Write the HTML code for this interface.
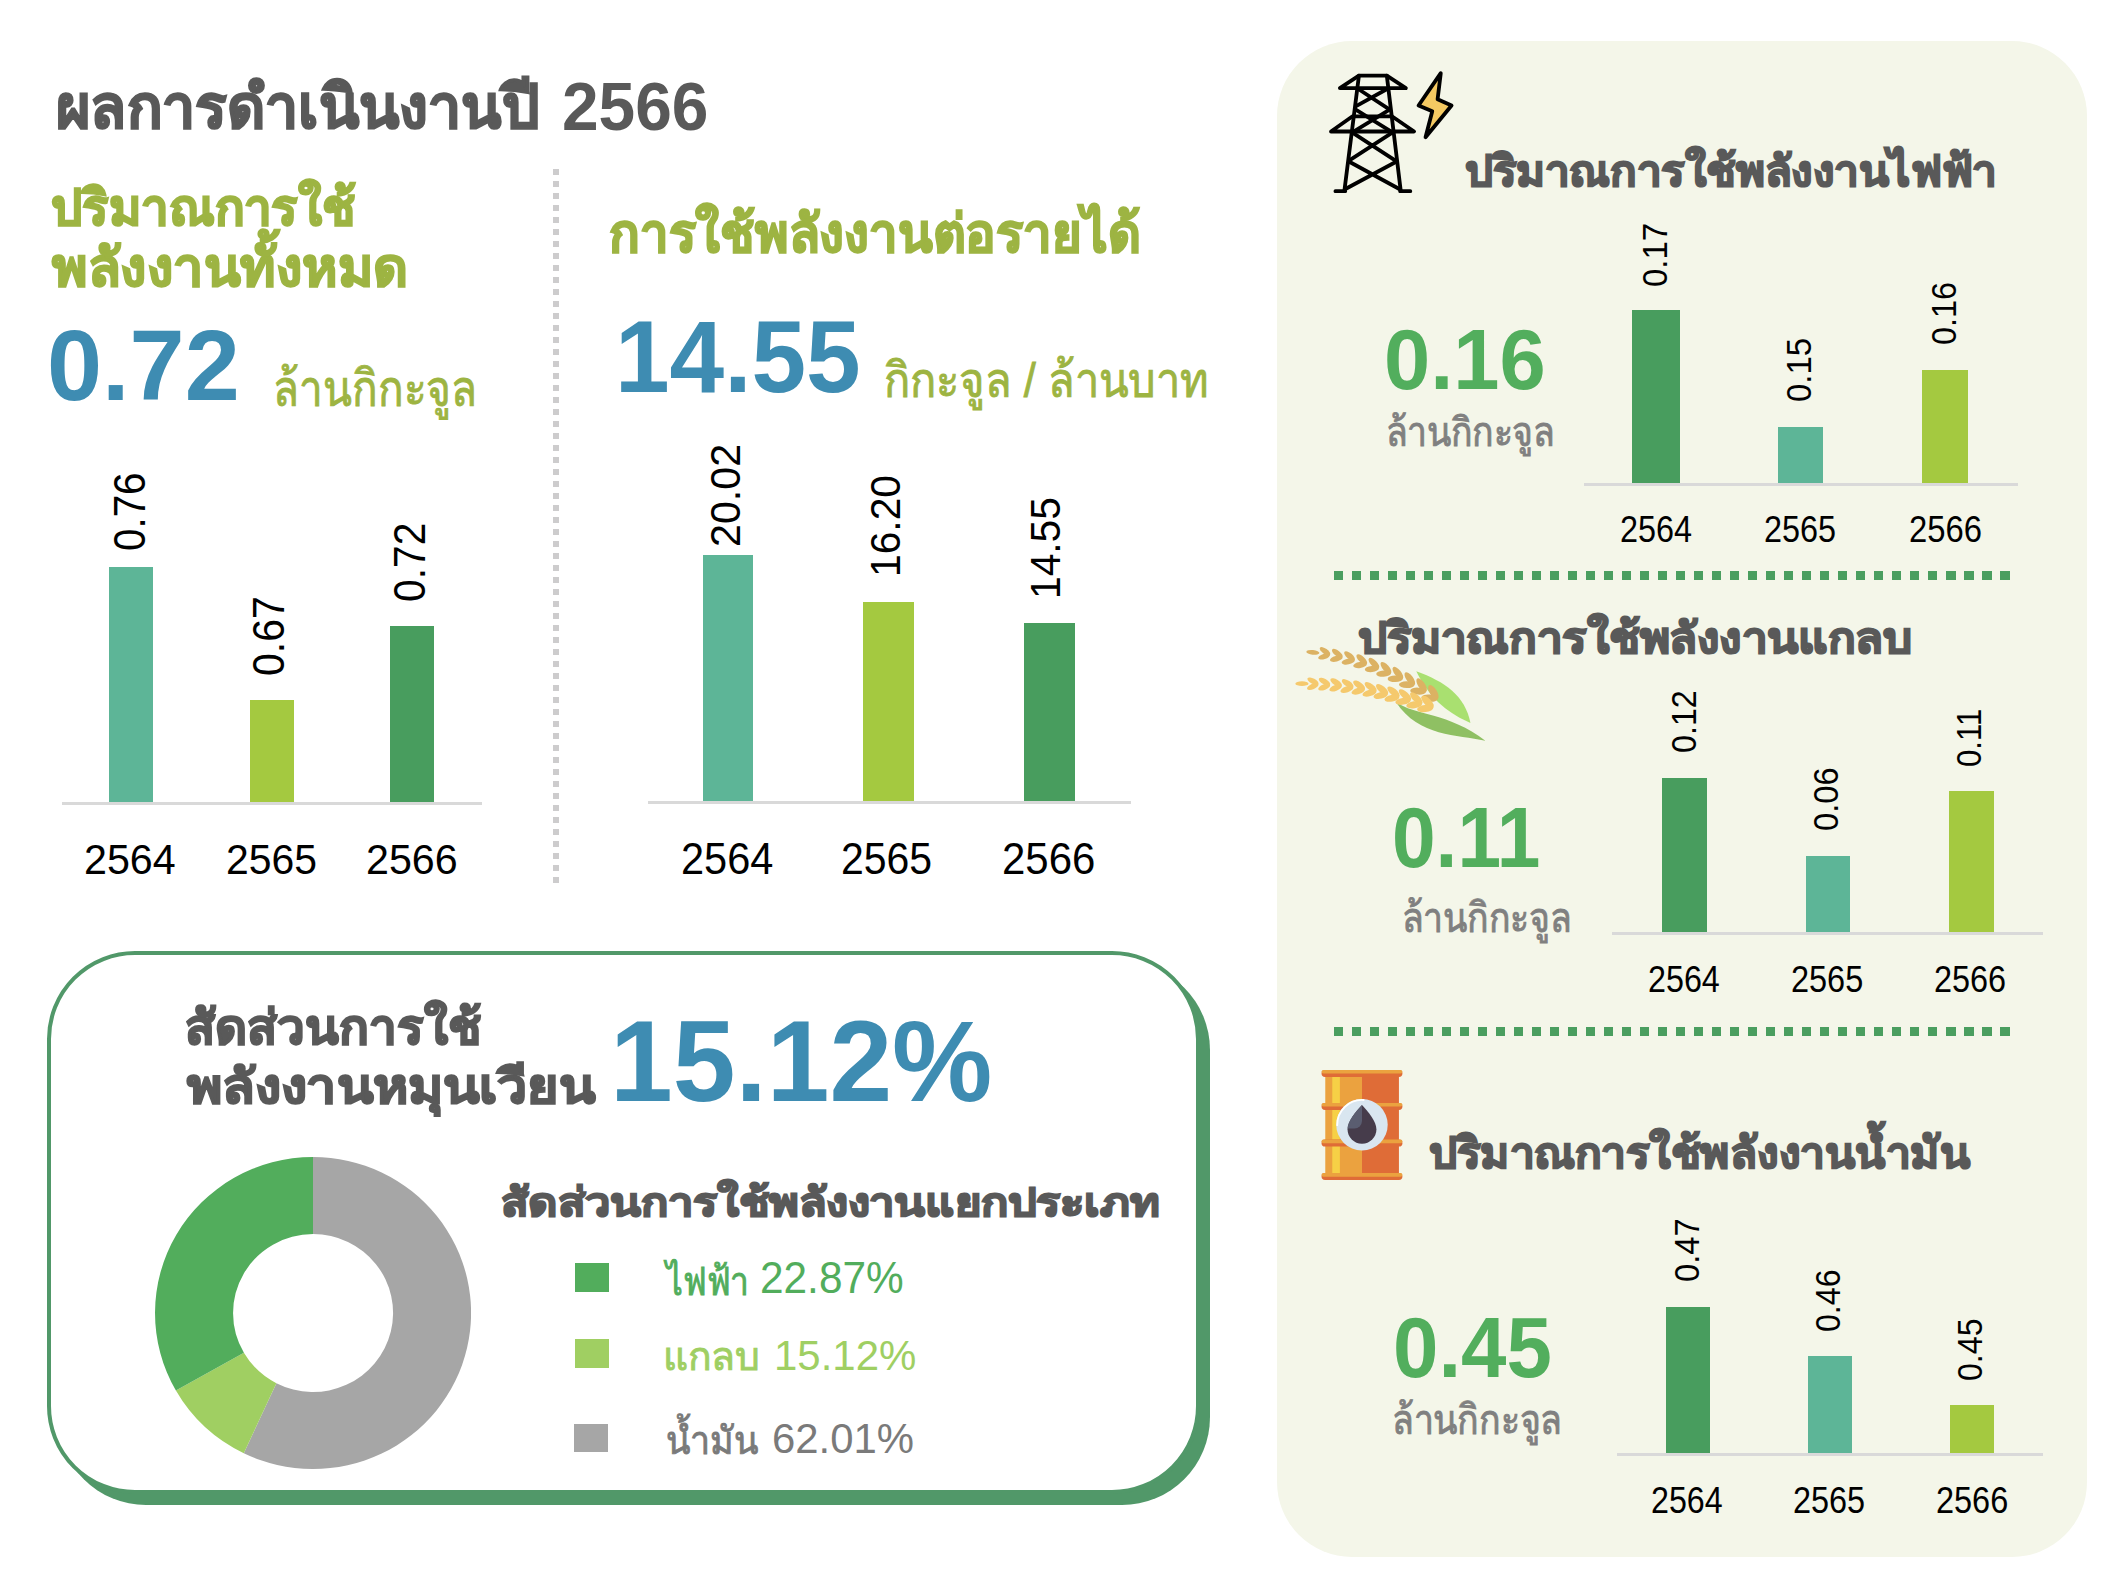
<!DOCTYPE html>
<html lang="th">
<head>
<meta charset="utf-8">
<title>ผลการดำเนินงานปี 2566</title>
<style>
html,body{margin:0;padding:0;background:#fff;}
body{width:2112px;height:1576px;position:relative;overflow:hidden;font-family:"Liberation Sans",sans-serif;}
.a{position:absolute;}
.t{position:absolute;white-space:nowrap;line-height:1;transform-origin:0 0;}
.axis{height:3px;background:#d9d9d9;}
</style>
</head>
<body>

<div id="div1" class="a" style="left:553px;top:169px;width:6px;height:714px;background:repeating-linear-gradient(to bottom,#cdcccd 0 6px,transparent 6px 12px);"></div>

<div id="lb1" class="a" style="left:109px;top:567px;width:44px;height:235px;background:#5db597;"></div>
<div id="lb2" class="a" style="left:250px;top:700px;width:44px;height:102px;background:#a4c940;"></div>
<div id="lb3" class="a" style="left:390px;top:626px;width:44px;height:176px;background:#489d5e;"></div>
<div id="lax" class="a axis" style="left:62px;top:802px;width:420px;"></div>

<div id="mb1" class="a" style="left:703px;top:555px;width:50px;height:246px;background:#5db597;"></div>
<div id="mb2" class="a" style="left:863px;top:602px;width:51px;height:199px;background:#a4c940;"></div>
<div id="mb3" class="a" style="left:1024px;top:623px;width:51px;height:178px;background:#489d5e;"></div>
<div id="max" class="a axis" style="left:648px;top:801px;width:483px;"></div>

<div id="boxsh" class="a shadow" style="left:58px;top:962px;width:1152px;height:543px;border-radius:88px;background:#519869;"></div>
<div id="box" class="a box" style="left:47px;top:951px;width:1145px;height:535px;border:4px solid #519869;border-radius:88px;background:#fff;"></div>

<svg id="donut" class="a" style="left:155px;top:1157px;" width="316" height="312" viewBox="-158 -158 316 316" preserveAspectRatio="none">
  <path d="M0,-158 A158,158 0 1 1 -69.2,142.0 L-36.6,71.1 A80,80 0 1 0 0,-80 Z" fill="#a6a6a6"/>
  <path d="M-69.2,142.0 A158,158 0 0 1 -137.1,78.5 L-69.1,40.2 A80,80 0 0 0 -36.6,71.1 Z" fill="#a0cf62"/>
  <path d="M-137.1,78.5 A158,158 0 0 1 0,-158 L0,-80 A80,80 0 0 0 -69.1,40.2 Z" fill="#52ad5c"/>
</svg>
<div id="sq1" class="a" style="left:575px;top:1263px;width:34px;height:29px;background:#52ad5c;"></div>
<div id="sq2" class="a" style="left:575px;top:1339px;width:34px;height:29px;background:#a0cf62;"></div>
<div id="sq3" class="a" style="left:574px;top:1424px;width:34px;height:28px;background:#a6a6a6;"></div>

<div id="panel" class="a panel" style="left:1277px;top:41px;width:810px;height:1516px;border-radius:75px;background:#f4f6e9;"></div>

<svg id="tower" class="a" style="left:1265px;top:30px;" width="200" height="200" viewBox="0 0 1576 1576">
 <g fill="none" stroke="#000" stroke-width="30" stroke-linecap="round" stroke-linejoin="round">
  <path d="M590,458 L740,360 L960,360 L1110,458 Z"/>
  <path d="M740,360 L625,1270 M960,360 L1070,1270"/>
  <path d="M520,800 L690,680 L1000,680 L1175,800 Z"/>
  <path d="M735,465 L980,625 M962,465 L718,600"/>
  <path d="M712,625 L995,800 M985,625 L698,800"/>
  <path d="M692,810 L1022,1025 M1000,810 L668,1025"/>
  <path d="M668,1040 L1062,1255 M1030,1040 L630,1255"/>
  <path d="M555,1270 L632,1270 M1065,1270 L1145,1270"/>
 </g>
 <path d="M1385,340 L1210,595 L1318,640 L1265,845 L1470,595 L1360,545 Z" fill="#f4c962" stroke="#000" stroke-width="30" stroke-linejoin="round"/>
</svg>
<div id="eb1" class="a" style="left:1632px;top:310px;width:48px;height:173px;background:#489d5e;"></div>
<div id="eb2" class="a" style="left:1778px;top:427px;width:45px;height:56px;background:#5db597;"></div>
<div id="eb3" class="a" style="left:1922px;top:369.5px;width:46px;height:113.5px;background:#a4c940;"></div>
<div id="eax" class="a axis" style="left:1584px;top:483px;width:434px;"></div>
<div id="dot1" class="a" style="left:1334.2px;top:571px;width:676px;height:9px;background:repeating-linear-gradient(to right,#4a9e5f 0 9.4px,transparent 9.4px 18.003px);"></div>

<svg id="rice" class="a" style="left:1290px;top:630px;" width="210" height="120" viewBox="0 0 2112 1207">
<path d="M1270,415 C1560,520 1760,660 1815,935 C1620,850 1420,720 1270,415 Z" fill="#a9e070"/><path d="M1065,725 C1250,860 1600,830 1965,1115 C1680,1050 1300,1080 1065,725 Z" fill="#8fc063"/><ellipse cx="230" cy="225" rx="66" ry="24" transform="rotate(6.0 230 225)" fill="#dcb263"/><ellipse cx="352" cy="214" rx="62" ry="27" transform="rotate(34.8 352 214)" fill="#dcb263"/><ellipse cx="343" cy="266" rx="62" ry="27" transform="rotate(-17.2 343 266)" fill="#dcb263"/><ellipse cx="476" cy="235" rx="65" ry="28" transform="rotate(37.6 476 235)" fill="#dcb263"/><ellipse cx="465" cy="289" rx="65" ry="28" transform="rotate(-14.4 465 289)" fill="#dcb263"/><ellipse cx="599" cy="262" rx="67" ry="29" transform="rotate(40.4 599 262)" fill="#dcb263"/><ellipse cx="585" cy="317" rx="67" ry="29" transform="rotate(-11.6 585 317)" fill="#dcb263"/><ellipse cx="722" cy="296" rx="69" ry="30" transform="rotate(43.2 722 296)" fill="#dcb263"/><ellipse cx="704" cy="352" rx="69" ry="30" transform="rotate(-8.8 704 352)" fill="#dcb263"/><ellipse cx="844" cy="335" rx="71" ry="31" transform="rotate(45.9 844 335)" fill="#dcb263"/><ellipse cx="823" cy="392" rx="71" ry="31" transform="rotate(-6.1 823 392)" fill="#dcb263"/><ellipse cx="965" cy="381" rx="74" ry="32" transform="rotate(48.6 965 381)" fill="#dcb263"/><ellipse cx="941" cy="439" rx="74" ry="32" transform="rotate(-3.4 941 439)" fill="#dcb263"/><ellipse cx="1085" cy="433" rx="76" ry="33" transform="rotate(51.2 1085 433)" fill="#dcb263"/><ellipse cx="1058" cy="491" rx="76" ry="33" transform="rotate(-0.8 1058 491)" fill="#dcb263"/><ellipse cx="1205" cy="491" rx="78" ry="34" transform="rotate(53.7 1205 491)" fill="#dcb263"/><ellipse cx="1174" cy="550" rx="78" ry="34" transform="rotate(1.7 1174 550)" fill="#dcb263"/><ellipse cx="1324" cy="555" rx="80" ry="35" transform="rotate(56.2 1324 555)" fill="#dcb263"/><ellipse cx="1289" cy="615" rx="80" ry="35" transform="rotate(4.2 1289 615)" fill="#dcb263"/><ellipse cx="1442" cy="626" rx="82" ry="36" transform="rotate(58.5 1442 626)" fill="#dcb263"/><ellipse cx="1404" cy="685" rx="82" ry="36" transform="rotate(6.5 1404 685)" fill="#dcb263"/><ellipse cx="120" cy="540" rx="66" ry="24" transform="rotate(0.0 120 540)" fill="#f5c96d"/><ellipse cx="231" cy="515" rx="62" ry="27" transform="rotate(27.8 231 515)" fill="#f5c96d"/><ellipse cx="229" cy="568" rx="62" ry="27" transform="rotate(-24.2 229 568)" fill="#f5c96d"/><ellipse cx="347" cy="520" rx="64" ry="28" transform="rotate(29.6 347 520)" fill="#f5c96d"/><ellipse cx="344" cy="574" rx="64" ry="28" transform="rotate(-22.4 344 574)" fill="#f5c96d"/><ellipse cx="464" cy="528" rx="66" ry="29" transform="rotate(31.4 464 528)" fill="#f5c96d"/><ellipse cx="458" cy="584" rx="66" ry="29" transform="rotate(-20.6 458 584)" fill="#f5c96d"/><ellipse cx="580" cy="539" rx="68" ry="30" transform="rotate(33.2 580 539)" fill="#f5c96d"/><ellipse cx="572" cy="597" rx="68" ry="30" transform="rotate(-18.8 572 597)" fill="#f5c96d"/><ellipse cx="695" cy="555" rx="70" ry="31" transform="rotate(35.0 695 555)" fill="#f5c96d"/><ellipse cx="686" cy="614" rx="70" ry="31" transform="rotate(-17.0 686 614)" fill="#f5c96d"/><ellipse cx="811" cy="574" rx="72" ry="32" transform="rotate(36.8 811 574)" fill="#f5c96d"/><ellipse cx="799" cy="634" rx="72" ry="32" transform="rotate(-15.2 799 634)" fill="#f5c96d"/><ellipse cx="926" cy="597" rx="74" ry="33" transform="rotate(38.6 926 597)" fill="#f5c96d"/><ellipse cx="912" cy="658" rx="74" ry="33" transform="rotate(-13.4 912 658)" fill="#f5c96d"/><ellipse cx="1041" cy="623" rx="76" ry="34" transform="rotate(40.3 1041 623)" fill="#f5c96d"/><ellipse cx="1025" cy="686" rx="76" ry="34" transform="rotate(-11.7 1025 686)" fill="#f5c96d"/><ellipse cx="1156" cy="653" rx="78" ry="34" transform="rotate(42.1 1156 653)" fill="#f5c96d"/><ellipse cx="1137" cy="717" rx="78" ry="34" transform="rotate(-9.9 1137 717)" fill="#f5c96d"/><ellipse cx="1270" cy="687" rx="80" ry="35" transform="rotate(43.8 1270 687)" fill="#f5c96d"/><ellipse cx="1249" cy="752" rx="80" ry="35" transform="rotate(-8.2 1249 752)" fill="#f5c96d"/><ellipse cx="1384" cy="724" rx="82" ry="36" transform="rotate(45.5 1384 724)" fill="#f5c96d"/><ellipse cx="1360" cy="790" rx="82" ry="36" transform="rotate(-6.5 1360 790)" fill="#f5c96d"/>
</svg>
<div id="gb1" class="a" style="left:1662px;top:778px;width:45px;height:154px;background:#489d5e;"></div>
<div id="gb2" class="a" style="left:1806px;top:856px;width:44px;height:76px;background:#5db597;"></div>
<div id="gb3" class="a" style="left:1949px;top:791px;width:45px;height:141px;background:#a4c940;"></div>
<div id="gax" class="a axis" style="left:1612px;top:932px;width:431px;"></div>
<div id="dot2" class="a" style="left:1334.2px;top:1027px;width:676px;height:9px;background:repeating-linear-gradient(to right,#4a9e5f 0 9.4px,transparent 9.4px 18.003px);"></div>

<svg id="barrel" class="a" style="left:1310px;top:1060px;" width="100" height="130" viewBox="0 0 1212 1576">
 <rect x="185" y="160" width="445" height="1250" fill="#eba23f"/>
 <rect x="630" y="160" width="448" height="1250" fill="#df6c37"/>
 <rect x="270" y="160" width="92" height="1250" fill="#f6d046"/>
 <rect x="140" y="120" width="980" height="85" rx="42" fill="#df6c37"/>
 <rect x="140" y="120" width="980" height="45" rx="22" fill="#eba23f"/>
 <rect x="140" y="520" width="980" height="85" rx="42" fill="#df6c37"/>
 <rect x="140" y="520" width="980" height="45" rx="22" fill="#eba23f"/>
 <rect x="140" y="965" width="980" height="85" rx="42" fill="#df6c37"/>
 <rect x="140" y="965" width="980" height="45" rx="22" fill="#eba23f"/>
 <rect x="140" y="1370" width="980" height="85" rx="42" fill="#df6c37"/>
 <rect x="140" y="1370" width="980" height="45" rx="22" fill="#eba23f"/>
 <circle cx="630" cy="785" r="312" fill="#d9e6f0"/>
 <path d="M330,790 A300,300 0 0 1 650,485" fill="none" stroke="#fff" stroke-width="22" stroke-linecap="round"/>
 <path d="M630,545 C560,620 455,740 455,840 A175,175 0 0 0 805,840 C805,740 700,620 630,545 Z" fill="#463c4b"/>
 <path d="M630,545 C560,620 455,740 455,830 L540,830 A90,90 0 0 0 630,740 Z" fill="#5a5d70"/>
</svg>
<div id="ob1" class="a" style="left:1666px;top:1307px;width:44px;height:146px;background:#489d5e;"></div>
<div id="ob2" class="a" style="left:1808px;top:1356px;width:44px;height:97px;background:#5db597;"></div>
<div id="ob3" class="a" style="left:1950px;top:1405px;width:44px;height:48px;background:#a4c940;"></div>
<div id="oax" class="a axis" style="left:1617px;top:1453px;width:426px;"></div>

<div id="title" class="t" style="left:56.00px;top:77.92px;font-size:60.12px;font-weight:bold;color:#595959;transform:scaleX(0.9813);-webkit-text-stroke:1.8px #595959;">ผลการดำเนินงานปี</div>
<div id="titled" class="t" style="left:562.30px;top:72.52px;font-size:67.61px;font-weight:bold;color:#595959;transform:scaleX(0.9735);">2566</div>
<div id="g1" class="t" style="left:51.00px;top:183.48px;font-size:50.23px;font-weight:bold;color:#9db442;transform:scaleX(0.9792);-webkit-text-stroke:1.8px #9db442;">ปริมาณการใช้</div>
<div id="g2" class="t" style="left:52.00px;top:241.82px;font-size:52.87px;font-weight:bold;color:#9db442;transform:scaleX(1.0168);-webkit-text-stroke:1.8px #9db442;">พลังงานทั้งหมด</div>
<div id="u1" class="t" style="left:272.50px;top:364.26px;font-size:50.81px;font-weight:normal;color:#9db442;transform:scaleX(0.8339);-webkit-text-stroke:0.9px #9db442;">ล้านกิกะจูล</div>
<div id="g3" class="t" style="left:609.00px;top:208.28px;font-size:52.76px;font-weight:bold;color:#9db442;transform:scaleX(0.9607);-webkit-text-stroke:1.8px #9db442;">การใช้พลังงานต่อรายได้</div>
<div id="u2" class="t" style="left:883.50px;top:356.30px;font-size:48.67px;font-weight:normal;color:#9db442;transform:scaleX(0.8926);-webkit-text-stroke:0.9px #9db442;">กิกะจูล / ล้านบาท</div>
<div id="r1" class="t" style="left:184.50px;top:1004.00px;font-size:47.50px;font-weight:bold;color:#595959;transform:scaleX(1.0380);-webkit-text-stroke:1.8px #595959;">สัดส่วนการใช้</div>
<div id="r2" class="t" style="left:186.50px;top:1063.13px;font-size:47.50px;font-weight:bold;color:#595959;transform:scaleX(1.1268);-webkit-text-stroke:1.8px #595959;">พลังงานหมุนเวียน</div>
<div id="lt" class="t" style="left:500.50px;top:1183.16px;font-size:39.75px;font-weight:bold;color:#595959;transform:scaleX(1.1367);-webkit-text-stroke:1.8px #595959;">สัดส่วนการใช้พลังงานแยกประเภท</div>
<div id="l1" class="t" style="left:666.30px;top:1261.95px;font-size:39.52px;font-weight:normal;color:#52ad5c;transform:scaleX(0.8486);-webkit-text-stroke:0.9px #52ad5c;">ไฟฟ้า</div>
<div id="l1d" class="t" style="left:759.50px;top:1256.20px;font-size:44.23px;font-weight:normal;color:#52ad5c;transform:scaleX(0.9578);">22.87%</div>
<div id="l2" class="t" style="left:663.10px;top:1337.44px;font-size:39.52px;font-weight:normal;color:#9fcf63;transform:scaleX(0.9890);-webkit-text-stroke:0.9px #9fcf63;">แกลบ</div>
<div id="l2d" class="t" style="left:773.70px;top:1333.58px;font-size:43.30px;font-weight:normal;color:#9fcf63;transform:scaleX(0.9697);">15.12%</div>
<div id="l3" class="t" style="left:666.10px;top:1422.32px;font-size:38.13px;font-weight:normal;color:#7a7a7a;transform:scaleX(0.9385);-webkit-text-stroke:0.9px #7a7a7a;">น้ำมัน</div>
<div id="l3d" class="t" style="left:771.90px;top:1417.44px;font-size:43.26px;font-weight:normal;color:#7a7a7a;transform:scaleX(0.9680);">62.01%</div>
<div id="rt1" class="t" style="left:1464.50px;top:149.50px;font-size:42.97px;font-weight:bold;color:#595959;transform:scaleX(1.0226);-webkit-text-stroke:1.8px #595959;">ปริมาณการใช้พลังงานไฟฟ้า</div>
<div id="rt2" class="t" style="left:1358.00px;top:616.66px;font-size:43.06px;font-weight:bold;color:#595959;transform:scaleX(1.0630);-webkit-text-stroke:1.8px #595959;">ปริมาณการใช้พลังงานแกลบ</div>
<div id="rt3" class="t" style="left:1428.70px;top:1131.60px;font-size:43.30px;font-weight:bold;color:#595959;transform:scaleX(1.0195);-webkit-text-stroke:1.8px #595959;">ปริมาณการใช้พลังงานน้ำมัน</div>
<div id="ru1" class="t" style="left:1385.90px;top:413.16px;font-size:39.95px;font-weight:normal;color:#808080;transform:scaleX(0.8908);-webkit-text-stroke:0.9px #808080;">ล้านกิกะจูล</div>
<div id="ru2" class="t" style="left:1402.30px;top:898.30px;font-size:41.42px;font-weight:normal;color:#808080;transform:scaleX(0.8590);-webkit-text-stroke:0.9px #808080;">ล้านกิกะจูล</div>
<div id="ru3" class="t" style="left:1392.10px;top:1399.44px;font-size:41.43px;font-weight:normal;color:#808080;transform:scaleX(0.8618);-webkit-text-stroke:0.9px #808080;">ล้านกิกะจูล</div>
<div id="n1" class="t" style="left:46.90px;top:314.98px;font-size:100.47px;font-weight:bold;color:#3e8cb2;transform:scaleX(0.9858);">0.72</div>
<div id="n2" class="t" style="left:614.60px;top:306.42px;font-size:101.36px;font-weight:bold;color:#3e8cb2;transform:scaleX(0.9685);">14.55</div>
<div id="n3" class="t" style="left:610.30px;top:1004.20px;font-size:115.26px;font-weight:bold;color:#3e8cb2;transform:scaleX(0.9781);">15.12%</div>
<div id="rn1" class="t" style="left:1383.60px;top:318.40px;font-size:84.56px;font-weight:bold;color:#52ae5d;transform:scaleX(0.9826);">0.16</div>
<div id="rn2" class="t" style="left:1392.40px;top:795.64px;font-size:84.56px;font-weight:bold;color:#52ae5d;transform:scaleX(0.9277);">0.11</div>
<div id="rn3" class="t" style="left:1393.20px;top:1304.50px;font-size:85.40px;font-weight:bold;color:#52ae5d;transform:scaleX(0.9564);">0.45</div>
<div id="ly1" class="t" style="left:84.30px;top:837.78px;font-size:43.09px;font-weight:normal;color:#000;transform:scaleX(0.9574);">2564</div>
<div id="ly2" class="t" style="left:225.60px;top:837.78px;font-size:43.09px;font-weight:normal;color:#000;transform:scaleX(0.9491);">2565</div>
<div id="ly3" class="t" style="left:365.80px;top:837.78px;font-size:43.09px;font-weight:normal;color:#000;transform:scaleX(0.9559);">2566</div>
<div id="my1" class="t" style="left:681.10px;top:836.80px;font-size:44.40px;font-weight:normal;color:#000;transform:scaleX(0.9360);">2564</div>
<div id="my2" class="t" style="left:841.30px;top:836.80px;font-size:44.40px;font-weight:normal;color:#000;transform:scaleX(0.9231);">2565</div>
<div id="my3" class="t" style="left:1001.80px;top:836.80px;font-size:44.40px;font-weight:normal;color:#000;transform:scaleX(0.9451);">2566</div>
<div id="ey1" class="t" style="left:1619.50px;top:512.44px;font-size:36.00px;font-weight:normal;color:#000;transform:scaleX(0.8991);">2564</div>
<div id="ey2" class="t" style="left:1763.70px;top:512.44px;font-size:36.00px;font-weight:normal;color:#000;transform:scaleX(0.8995);">2565</div>
<div id="ey3" class="t" style="left:1908.50px;top:512.44px;font-size:36.00px;font-weight:normal;color:#000;transform:scaleX(0.9113);">2566</div>
<div id="gy1" class="t" style="left:1647.80px;top:961.64px;font-size:36.16px;font-weight:normal;color:#000;transform:scaleX(0.8923);">2564</div>
<div id="gy2" class="t" style="left:1790.50px;top:961.64px;font-size:36.16px;font-weight:normal;color:#000;transform:scaleX(0.8982);">2565</div>
<div id="gy3" class="t" style="left:1934.20px;top:961.64px;font-size:36.16px;font-weight:normal;color:#000;transform:scaleX(0.8961);">2566</div>
<div id="oy1" class="t" style="left:1651.10px;top:1482.64px;font-size:36.16px;font-weight:normal;color:#000;transform:scaleX(0.8902);">2564</div>
<div id="oy2" class="t" style="left:1793.40px;top:1482.64px;font-size:36.16px;font-weight:normal;color:#000;transform:scaleX(0.8961);">2565</div>
<div id="oy3" class="t" style="left:1936.10px;top:1482.64px;font-size:36.16px;font-weight:normal;color:#000;transform:scaleX(0.8982);">2566</div>
<div id="lr1" class="t" style="left:106.70px;top:551.04px;font-size:45.29px;font-weight:normal;color:#000;transform:rotate(-90deg) scaleX(0.8906);">0.76</div>
<div id="lr2" class="t" style="left:247.40px;top:675.68px;font-size:44.68px;font-weight:normal;color:#000;transform:rotate(-90deg) scaleX(0.9164);">0.67</div>
<div id="lr3" class="t" style="left:388.00px;top:601.78px;font-size:44.68px;font-weight:normal;color:#000;transform:rotate(-90deg) scaleX(0.9125);">0.72</div>
<div id="mr1" class="t" style="left:704.30px;top:547.02px;font-size:43.22px;font-weight:normal;color:#000;transform:rotate(-90deg) scaleX(0.9528);">20.02</div>
<div id="mr2" class="t" style="left:863.60px;top:577.38px;font-size:43.09px;font-weight:normal;color:#000;transform:rotate(-90deg) scaleX(0.9458);">16.20</div>
<div id="mr3" class="t" style="left:1025.00px;top:599.46px;font-size:42.19px;font-weight:normal;color:#000;transform:rotate(-90deg) scaleX(0.9644);">14.55</div>
<div id="er1" class="t" style="left:1637.70px;top:287.38px;font-size:34.63px;font-weight:normal;color:#000;transform:rotate(-90deg) scaleX(0.9498);">0.17</div>
<div id="er2" class="t" style="left:1781.40px;top:401.86px;font-size:35.92px;font-weight:normal;color:#000;transform:rotate(-90deg) scaleX(0.9147);">0.15</div>
<div id="er3" class="t" style="left:1925.60px;top:345.38px;font-size:35.92px;font-weight:normal;color:#000;transform:rotate(-90deg) scaleX(0.9028);">0.16</div>
<div id="gr1" class="t" style="left:1665.90px;top:753.16px;font-size:35.21px;font-weight:normal;color:#000;transform:rotate(-90deg) scaleX(0.9161);">0.12</div>
<div id="gr2" class="t" style="left:1808.90px;top:831.34px;font-size:35.69px;font-weight:normal;color:#000;transform:rotate(-90deg) scaleX(0.9158);">0.06</div>
<div id="gr3" class="t" style="left:1952.40px;top:766.84px;font-size:34.77px;font-weight:normal;color:#000;transform:rotate(-90deg) scaleX(0.8972);">0.11</div>
<div id="or1" class="t" style="left:1669.20px;top:1282.34px;font-size:35.92px;font-weight:normal;color:#000;transform:rotate(-90deg) scaleX(0.9100);">0.47</div>
<div id="or2" class="t" style="left:1810.50px;top:1332.34px;font-size:34.63px;font-weight:normal;color:#000;transform:rotate(-90deg) scaleX(0.9280);">0.46</div>
<div id="or3" class="t" style="left:1953.10px;top:1380.90px;font-size:34.63px;font-weight:normal;color:#000;transform:rotate(-90deg) scaleX(0.9280);">0.45</div>
</body>
</html>
